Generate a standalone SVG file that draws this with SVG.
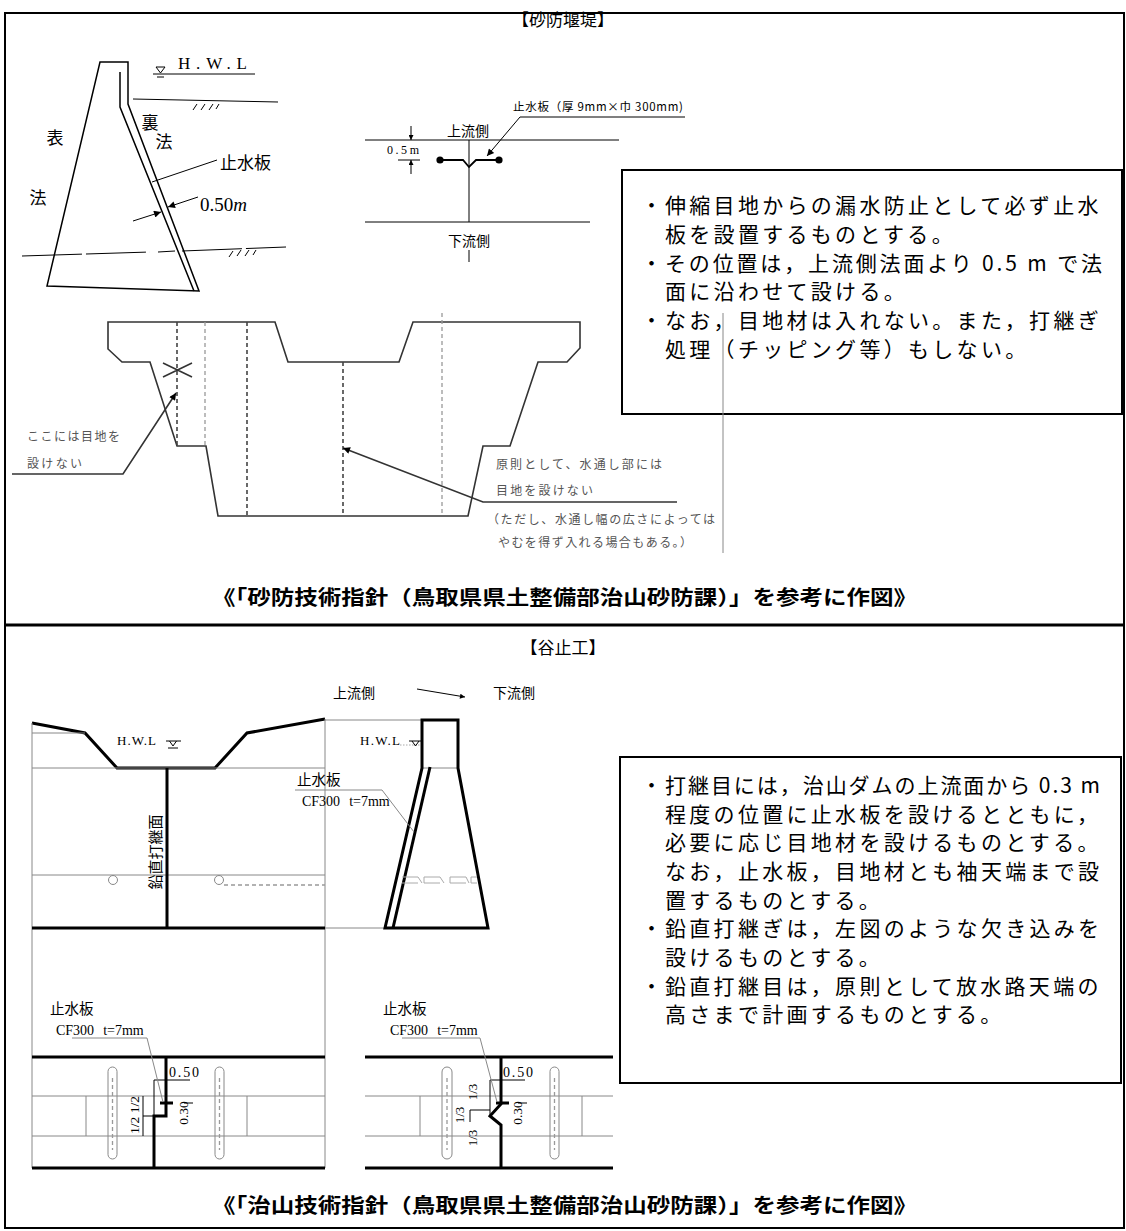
<svg xmlns="http://www.w3.org/2000/svg" width="1126" height="1231" viewBox="0 0 1126 1231">
<style>
.jp{font-family:"Noto Sans CJK JP","Noto Sans",sans-serif}
.sf{font-family:"Liberation Serif","Noto Sans CJK JP",serif}
.ln{stroke:#000;stroke-width:1.5;fill:none}
.thin{stroke:#000;stroke-width:1;fill:none}
.gray{stroke:#888;stroke-width:1;fill:none}
.lgray{stroke:#aaa;stroke-width:1;fill:none}
.thick{stroke:#000;stroke-width:3;fill:none;stroke-linejoin:miter}
.plan{stroke:#333;stroke-width:1.6;fill:none}
.dash{stroke:#444;stroke-width:1.6;stroke-dasharray:4 3;fill:none}
.dashl{stroke:#999;stroke-width:1.3;stroke-dasharray:4 3;fill:none}
.note{font-size:21px;letter-spacing:3.3px;fill:#000}
.small{font-size:12px;fill:#555}
.cap{font-size:20px;font-weight:700;fill:#000}
.lbl{font-size:14.5px;fill:#000}
</style>
<defs>
<marker id="arr" viewBox="0 0 10 10" refX="10" refY="5" markerWidth="9" markerHeight="7" markerUnits="userSpaceOnUse" orient="auto"><path d="M0,0 L10,5 L0,10 z" fill="#000"/></marker>
<marker id="arrs" viewBox="0 0 10 10" refX="10" refY="5" markerWidth="7" markerHeight="5" markerUnits="userSpaceOnUse" orient="auto"><path d="M0,0 L10,5 L0,10 z" fill="#000"/></marker>
</defs>

<g id="frame">
<rect x="5" y="13" width="1119" height="1215" fill="none" stroke="#000" stroke-width="2"/>
<path d="M5,625 H1124" stroke="#000" stroke-width="3"/>
</g>

<g id="title-sabo">
<text class="jp" x="563" y="26" font-size="17" text-anchor="middle">【砂防堰堤】</text>
</g>

<g id="dam-section">
<path class="ln" d="M100,62 H128 V104 L199,291 L47,286 Z"/>
<path class="ln" d="M120,72 V107 L194,291"/>
<path class="thin" d="M133,99 L278,102"/>
<path class="thin" d="M197,104 l-4,6 M205,104 l-4,6 M213,104 l-4,6 M219,104 l-3,5"/>
<path class="thin" d="M22,256 L150,252 M158,252 L175,251 M182,251 L286,247" stroke-dasharray="60 4"/>
<path class="thin" d="M233,251 l-4,6 M241,250 l-4,6 M249,250 l-4,6 M256,250 l-3,5"/>
<text class="sf" x="178" y="69" font-size="17" textLength="69">H.W.L</text>
<path class="thin" d="M153,74 H255"/>
<path class="thin" d="M156,67 H165 L160.5,73 Z"/>
<path class="thin" d="M157,77 H164"/>
<text class="jp" x="55" y="144" font-size="17" text-anchor="middle">表</text>
<text class="jp" x="38" y="204" font-size="17" text-anchor="middle">法</text>
<text class="jp" x="150" y="129" font-size="17" text-anchor="middle">裏</text>
<text class="jp" x="164" y="148" font-size="17" text-anchor="middle">法</text>
<text class="jp" x="220" y="169" font-size="17">止水板</text>
<text class="sf" x="200" y="211" font-size="19">0.50<tspan font-style="italic">m</tspan></text>
</g>

<g id="waterstop-detail">
<path class="thin" d="M365,140 H619 M365,222 H590 M469,140 V222 M469,250 V262" stroke="#333"/>
<path d="M440,160 H463 L469,167 L476,160 H499" fill="none" stroke="#000" stroke-width="1.8"/>
<circle cx="440" cy="160" r="3.6" fill="#000"/>
<circle cx="499" cy="160" r="3.6" fill="#000"/>
<path class="thin" d="M398,160 H420"/>
<text class="sf" x="387" y="154" font-size="12" textLength="32">0.5m</text>
<text class="jp" x="447" y="136" font-size="14">上流側</text>
<text class="jp" x="448" y="246" font-size="14">下流側</text>
<text class="jp" x="513" y="111" font-size="11.5" textLength="170">止水板（厚 9mm×巾 300mm)</text>
</g>

<g id="note-box-1">
<rect x="622" y="170" width="500" height="244" fill="none" stroke="#000" stroke-width="2"/>
<g class="jp note">
<text x="641" y="213">・</text>
<text x="665" y="213">伸縮目地からの漏水防止として必ず止水</text>
<text x="665" y="242">板を設置するものとする。</text>
<text x="641" y="271">・</text>
<text x="665" y="271" letter-spacing="0" textLength="437" lengthAdjust="spacing">その位置は，上流側法面より 0.5 m で法</text>
<text x="665" y="299">面に沿わせて設ける。</text>
<text x="641" y="328">・</text>
<text x="665" y="328">なお，目地材は入れない。また，打継ぎ</text>
<text x="665" y="357">処理（チッピング等）もしない。</text>
</g>
</g>

<g id="plan-view">
<path class="plan" d="M108,322 H275 L288,362 H399 L413,322 H580 V348 L567,362 H538 L510,446 H483 L468,516 H218 L206,446 H177 L150,362 H122 L108,349 Z"/>
<path class="dash" d="M177,322 V446 M247,322 V516 M343,362 V516"/>
<path class="dashl" d="M205,322 V446 M442,313 V516"/>
<path class="plan" d="M163,363 L192,377 M163,377 L192,363"/>
<g class="jp small">
<text x="27" y="441" textLength="93">ここには目地を</text>
<text x="27" y="468" textLength="55">設けない</text>
<text x="496" y="469" textLength="166">原則として、水通し部には</text>
<text x="496" y="495" textLength="97">目地を設けない</text>
<text x="487" y="524" textLength="228">（ただし、水通し幅の広さによっては</text>
<text x="498" y="547" textLength="194">やむを得ず入れる場合もある。）</text>
</g>
<path d="M723,313 V553" stroke="#888" stroke-width="1"/>
</g>

<g id="caption-1">
<text class="jp cap" x="212" y="605" textLength="705" lengthAdjust="spacingAndGlyphs">《「砂防技術指針（鳥取県県土整備部治山砂防課）」を参考に作図》</text>
</g>

<g id="title-tanidome">
<text class="jp" x="563" y="654" font-size="17" text-anchor="middle">【谷止工】</text>
<text class="jp" x="333" y="698" font-size="14">上流側</text>
<text class="jp" x="493" y="698" font-size="14">下流側</text>
</g>

<g id="front-view">
<path class="thick" d="M32,723 L85,733 L117,768 H215 L247,733 L325,719"/>
<path class="gray" d="M32,733 H85 M32,723 V1168 M325,719 V1168 M32,768 H325 M32,875 H325"/>
<path class="thick" d="M167,768 V928 M32,928 H325"/>
<circle cx="113" cy="880" r="4.5" fill="none" stroke="#888"/>
<circle cx="219" cy="880" r="4.5" fill="none" stroke="#888"/>
<path class="dashl" d="M224,885 H325" stroke-dasharray="2 1"/>
<text class="jp" font-size="15" text-anchor="middle" transform="translate(161,852) rotate(-90)">鉛直打継面</text>
<text class="sf" x="117" y="745" font-size="13" textLength="39">H.W.L</text>
<path class="thin" d="M166,741 H181 M169.5,741 L173,746 L176.5,741 M168,748 H178"/>
</g>

<g id="side-section">
<path class="gray" d="M325,720 H422 M325,928 H385 M422,768 H458"/>
<path class="thick" d="M422,768 V720 H458 V768 L488,928 H385 Z"/>
<path class="thick" d="M430,767 L393,928"/>
<text class="sf" x="360" y="745" font-size="13" textLength="40">H.W.L</text>
<path class="lgray" d="M400,745 H421" stroke-dasharray="1.5 1.5"/>
<path class="thin" d="M409,741 H422 M412,741 L415.5,746 L419,741"/>
<path class="lgray" d="M402,877 H418 M402,883 H418 M418,877 L422,883 M424,877 H440 M424,883 H440 M424,877 V883 M440,877 L444,883 M450,877 H466 M450,883 H466 M450,877 V883 M466,877 L469,883 M471,877 H477 M471,883 H477 M471,877 V883"/>
<text class="jp lbl" x="297" y="785">止水板</text>
<text class="sf" x="302" y="806" font-size="14">CF300<tspan dx="9">t=7mm</tspan></text>
</g>

<g id="joint-detail-left">
<path class="thick" d="M32,1057 H325 M32,1168 H325"/>
<path class="gray" d="M32,1096 H325 M32,1136 H325 M86,1096 V1136 M247,1096 V1136"/>
<rect x="108" y="1067" width="9" height="92" rx="4.5" fill="none" stroke="#888"/>
<rect x="215" y="1067" width="9" height="92" rx="4.5" fill="none" stroke="#888"/>
<path class="dashl" d="M112.5,1078 V1150 M219.5,1078 V1150" stroke-dasharray="8 4"/>
<path class="thick" d="M166,1057 V1116 H154 V1168"/>
<path d="M160,1103 H173" stroke="#000" stroke-width="3"/>
<text class="jp lbl" x="50" y="1014">止水板</text>
<text class="sf" x="56" y="1035" font-size="14">CF300<tspan dx="9">t=7mm</tspan></text>
<text class="sf" x="169" y="1077" font-size="14" textLength="30">0.50</text>
<path class="thin" d="M154,1080 H190 M154,1080 V1116 M143,1096 V1136 M143,1116 H154 M184,1103 H193"/>
<text class="sf" font-size="13.5" text-anchor="middle" transform="translate(188,1113) rotate(-90)">0.30</text>
<text class="sf" font-size="13.5" text-anchor="middle" transform="translate(139,1115) rotate(-90)">1/2 1/2</text>
</g>

<g id="joint-detail-right">
<path class="thick" d="M365,1057 H613 M365,1168 H613"/>
<path class="gray" d="M365,1096 H613 M365,1136 H613 M420,1096 V1136 M582,1096 V1136"/>
<rect x="442" y="1067" width="10" height="92" rx="5" fill="none" stroke="#888"/>
<rect x="550" y="1067" width="9" height="92" rx="4.5" fill="none" stroke="#888"/>
<path class="dashl" d="M447,1078 V1150 M554.5,1078 V1150" stroke-dasharray="8 4"/>
<path class="thick" d="M501,1057 V1104 L490,1116 L501,1125 V1168"/>
<path d="M496,1103 H509" stroke="#000" stroke-width="3"/>
<text class="jp lbl" x="383" y="1014">止水板</text>
<text class="sf" x="390" y="1035" font-size="14">CF300<tspan dx="9">t=7mm</tspan></text>
<text class="sf" x="503" y="1077" font-size="14" textLength="30">0.50</text>
<path class="thin" d="M490,1080 H525 M490,1080 V1116 M470,1122 V1110 H490 M518,1103 H527"/>
<text class="sf" font-size="13.5" text-anchor="middle" transform="translate(522,1113) rotate(-90)">0.30</text>
<text class="sf" font-size="13" text-anchor="middle" transform="translate(477,1092) rotate(-90)">1/3</text>
<text class="sf" font-size="13" text-anchor="middle" transform="translate(464,1115) rotate(-90)">1/3</text>
<text class="sf" font-size="13" text-anchor="middle" transform="translate(477,1138) rotate(-90)">1/3</text>
</g>

<g id="note-box-2">
<rect x="620" y="757" width="501" height="326" fill="none" stroke="#000" stroke-width="2"/>
<g class="jp note">
<text x="641" y="793">・</text>
<text x="665" y="793" letter-spacing="0" textLength="435" lengthAdjust="spacing">打継目には，治山ダムの上流面から 0.3 m</text>
<text x="665" y="822">程度の位置に止水板を設けるとともに，</text>
<text x="665" y="850">必要に応じ目地材を設けるものとする。</text>
<text x="665" y="879">なお，止水板，目地材とも袖天端まで設</text>
<text x="665" y="908">置するものとする。</text>
<text x="641" y="936">・</text>
<text x="665" y="936">鉛直打継ぎは，左図のような欠き込みを</text>
<text x="665" y="965">設けるものとする。</text>
<text x="641" y="994">・</text>
<text x="665" y="994">鉛直打継目は，原則として放水路天端の</text>
<text x="665" y="1022">高さまで計画するものとする。</text>
</g>
</g>

<g id="caption-2">
<text class="jp cap" x="212" y="1213" textLength="705" lengthAdjust="spacingAndGlyphs">《「治山技術指針（鳥取県県土整備部治山砂防課）」を参考に作図》</text>
</g>

<g id="connectors">
<path class="thin" d="M217,160 L152,182"/>
<path class="thin" d="M198,197 L168,207" marker-end="url(#arr)"/>
<path class="thin" d="M133,221 L161,212" marker-end="url(#arr)"/>
<path class="thin" d="M520,117 H685"/>
<path class="thin" d="M520,117 L487,156" marker-end="url(#arr)"/>
<path class="thin" d="M411,126 V140" marker-end="url(#arrs)"/>
<path class="thin" d="M411,174 V160" marker-end="url(#arrs)"/>
<path class="plan" d="M12,474 H123 L176,393" marker-end="url(#arr)"/>
<path class="plan" d="M677,502 H483 L343,448" marker-end="url(#arr)"/>
<path class="thin" d="M417,689 L465,697" stroke="#444" marker-end="url(#arrs)"/>
<path class="gray" d="M295,790 H382 L414,832" stroke="#444"/>
<path class="gray" d="M72,1038 H147 L163,1102" stroke="#444"/>
<path class="gray" d="M402,1038 H480 L497,1102" stroke="#444"/>
</g>
</svg>
